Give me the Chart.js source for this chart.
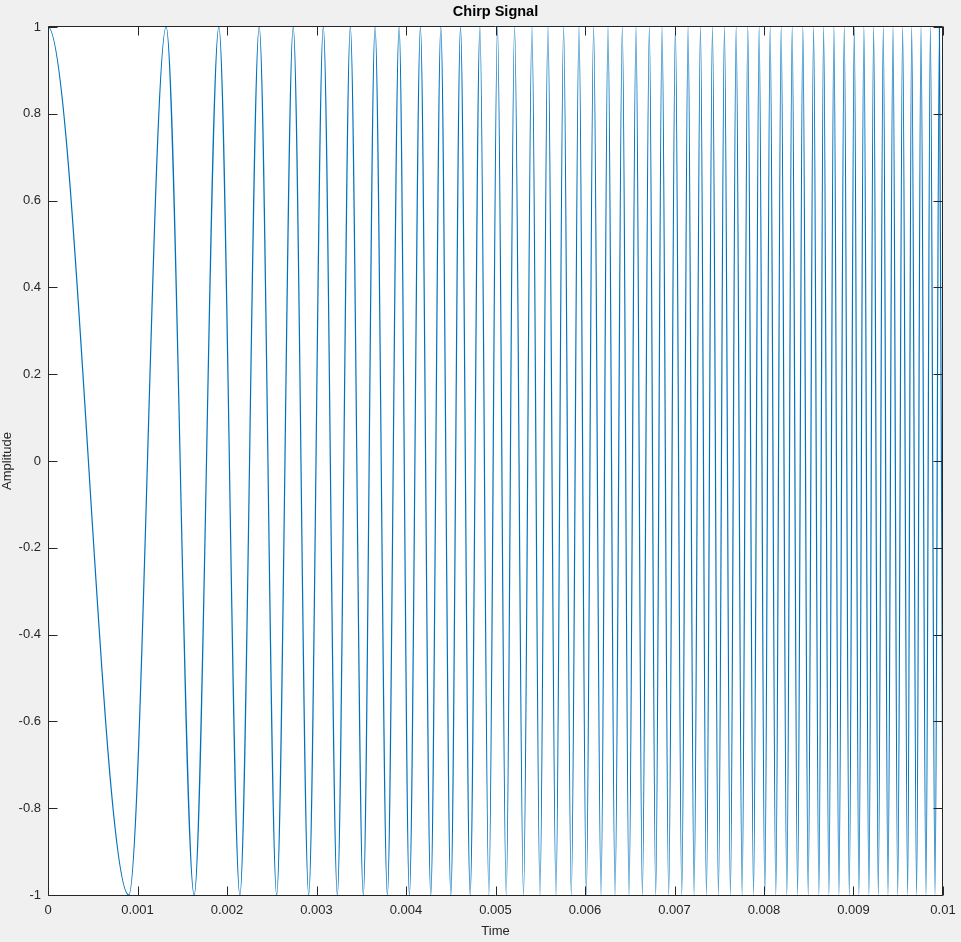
<!DOCTYPE html>
<html>
<head>
<meta charset="utf-8">
<title>Chirp Signal</title>
<script src="https://cdn.jsdelivr.net/npm/chart.js@4.4.1/dist/chart.umd.min.js"></script>
<style>
  html, body { margin: 0; padding: 0; background: #f0f0f0; }
  canvas { display: block; }
</style>
</head>
<body>
<canvas id="chirp" width="961" height="942"></canvas>
<script>
// crest (+1) and trough (-1) times in ms
const peakTimes = [0, 1.320, 1.909, 2.360, 2.740, 3.076, 3.378, 3.654, 3.923, 4.161, 4.389,
  4.609, 4.826, 5.022, 5.213, 5.407, 5.586, 5.761, 5.933, 6.096, 6.257, 6.417, 6.570,
  6.719, 6.861, 7.010, 7.152, 7.290, 7.424, 7.558, 7.689, 7.819, 7.946, 8.069, 8.192,
  8.315, 8.434, 8.554, 8.666, 8.781, 8.897, 9.009, 9.116, 9.225, 9.333, 9.441, 9.549,
  9.650, 9.754, 9.859, 9.960];
const troughTimes = [0.903, 1.633, 2.144, 2.555, 2.913, 3.233, 3.523, 3.792, 4.038, 4.277,
  4.501, 4.717, 4.926, 5.120, 5.313, 5.497, 5.676, 5.847, 6.015, 6.179, 6.336, 6.492,
  6.641, 6.790, 6.935, 7.081, 7.219, 7.357, 7.491, 7.625, 7.756, 7.883, 8.009, 8.132,
  8.255, 8.375, 8.494, 8.613, 8.725, 8.837, 8.953, 9.060, 9.172, 9.277, 9.385, 9.494,
  9.605, 9.705, 9.810, 9.911, 10.0];
const peakValue = 1;
const troughValue = -1;
// trough just left of t=0 (clipped away) so the first crest leaves t=0 flat
const leadInTime = -0.903;

const xTickValues = [0, 0.001, 0.002, 0.003, 0.004, 0.005, 0.006, 0.007, 0.008, 0.009, 0.01];
const xTickLabels = ["0", "0.001", "0.002", "0.003", "0.004", "0.005", "0.006", "0.007", "0.008", "0.009", "0.01"];
const yTickValues = [-1, -0.8, -0.6, -0.4, -0.2, 0, 0.2, 0.4, 0.6, 0.8, 1];
const yTickLabels = ["-1", "-0.8", "-0.6", "-0.4", "-0.2", "0", "0.2", "0.4", "0.6", "0.8", "1"];

const FONT = "'Liberation Sans', Arial, Helvetica, sans-serif";
const AXIS_COLOR = "#262626";

let points = [{ x: leadInTime / 1000, y: troughValue }];
peakTimes.forEach((t) => points.push({ x: t / 1000, y: peakValue }));
troughTimes.forEach((t) => points.push({ x: t / 1000, y: troughValue }));
points.sort((a, b) => a.x - b.x);

// white axes area, box and inward ticks like MATLAB
const axesBox = {
  id: "axesBox",
  beforeDraw(chart) {
    const { ctx, chartArea: a } = chart;
    ctx.save();
    ctx.fillStyle = "#ffffff";
    ctx.fillRect(a.left, a.top, a.right - a.left, a.bottom - a.top);
    ctx.restore();
  },
  afterDatasetsDraw(chart) {
    const { ctx, chartArea: a, scales } = chart;
    const L = Math.floor(a.left) + 0.5;
    const R = Math.floor(a.right) - 0.5;
    const T = Math.floor(a.top) - 0.5;
    const B = Math.floor(a.bottom) + 0.5;
    const len = 9;
    ctx.save();
    ctx.strokeStyle = AXIS_COLOR;
    ctx.lineWidth = 1;
    ctx.beginPath();
    ctx.rect(L, T, R - L, B - T);
    xTickValues.forEach((v) => {
      const px = Math.round(scales.x.getPixelForValue(v)) + 0.5;
      ctx.moveTo(px, B); ctx.lineTo(px, B - len);
      ctx.moveTo(px, T); ctx.lineTo(px, T + len);
    });
    yTickValues.forEach((v) => {
      const py = Math.round(scales.y.getPixelForValue(v)) + 0.5;
      ctx.moveTo(L, py); ctx.lineTo(L + len, py);
      ctx.moveTo(R, py); ctx.lineTo(R - len, py);
    });
    ctx.stroke();
    ctx.restore();
  },
};

let ctx = document.getElementById("chirp").getContext("2d");
let chirpChart = new Chart(ctx, {
  type: "line",
  data: {
    datasets: [
      {
        label: "Chirp",
        data: points,
        borderColor: "#0072BD",
        borderWidth: 1.2,
        pointRadius: 0,
        fill: false,
        cubicInterpolationMode: "monotone",
      },
    ],
  },
  options: {
    responsive: false,
    animation: false,
    devicePixelRatio: 1,
    events: [],
    layout: { padding: { left: 0, right: 18, top: 0, bottom: 0 } },
    plugins: {
      legend: { display: false },
      tooltip: { enabled: false },
      title: {
        display: true,
        text: "Chirp Signal",
        color: "#000000",
        fullSize: false,
        font: { family: FONT, size: 14.5, weight: "bold" },
        padding: { top: 3, bottom: 6.6 },
      },
    },
    scales: {
      x: {
        type: "linear",
        min: 0,
        max: 0.01,
        grid: { display: false, drawTicks: false },
        border: { display: false },
        afterBuildTicks: (s) => { s.ticks = xTickValues.map((v) => ({ value: v })); },
        afterFit: (s) => { s.height = 47; s.paddingLeft = 0; s.paddingRight = 0; },
        ticks: {
          padding: 8,
          color: AXIS_COLOR,
          autoSkip: false,
          maxRotation: 0,
          font: { family: FONT, size: 13 },
          callback: (v, i) => xTickLabels[i],
        },
        title: {
          display: true,
          text: "Time",
          color: AXIS_COLOR,
          font: { family: FONT, size: 13 },
          padding: { top: 0, bottom: 3 },
        },
      },
      y: {
        min: -1,
        max: 1,
        grid: { display: false, drawTicks: false },
        border: { display: false },
        afterBuildTicks: (s) => { s.ticks = yTickValues.map((v) => ({ value: v })); },
        afterFit: (s) => { s.width = 48; s.paddingTop = 0; s.paddingBottom = 0; },
        ticks: {
          padding: 7,
          color: AXIS_COLOR,
          autoSkip: false,
          font: { family: FONT, size: 13 },
          callback: (v, i) => yTickLabels[i],
        },
        title: {
          display: true,
          text: "Amplitude",
          color: AXIS_COLOR,
          font: { family: FONT, size: 13 },
          padding: { top: 0, bottom: 0 },
        },
      },
    },
  },
  plugins: [axesBox],
});
</script>
</body>
</html>
